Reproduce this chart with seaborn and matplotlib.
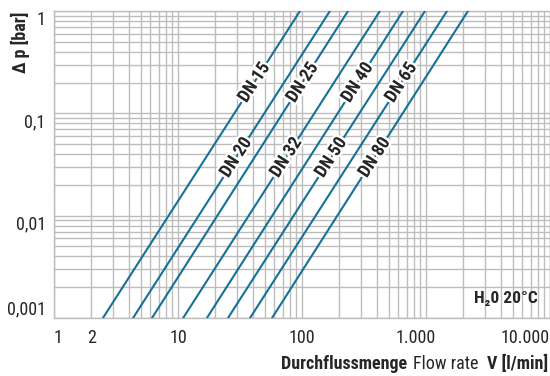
import numpy as np
import pandas as pd
import matplotlib
matplotlib.use("Agg")
import matplotlib.pyplot as plt
import matplotlib.patheffects as pe
import matplotlib.transforms as mtransforms
from matplotlib import font_manager as fm
from matplotlib.ticker import FixedLocator, LogLocator, NullFormatter
import seaborn as sns

# pressure loss lines at 0.001 bar and 1 bar
dn_labels = ["DN 15", "DN 20", "DN 25", "DN 32", "DN 40", "DN 50", "DN 65", "DN 80"]
flow_at_low = [2.48, 4.34, 6.17, 11.0, 17.1, 25.3, 38.1, 57.3]      # l/min
flow_at_high = [96.4, 168, 235, 425, 653, 982, 1477, 2181]          # l/min
dp_low, dp_high = 0.001, 1.0                                        # bar
label_dp = [0.2, 0.037, 0.2, 0.037, 0.2, 0.037, 0.2, 0.037]         # where the DN label sits

x_ticks = [1, 2, 10, 100, 1000, 10000]
x_ticklabels = ["1", "2", "10", "100", "1.000", "10.000"]
y_ticks = [0.001, 0.01, 0.1, 1]
y_ticklabels = ["0,001", "0,01", "0,1", "1"]

LINE = "#17709a"
GRID = "#bdbdbd"

# the original uses a condensed grotesque, take a narrow face if there is one
entries = fm.fontManager.ttflist
names = {f.name for f in entries}
narrow = [f.name for f in entries
          if "condensed" in f.name.lower() or "narrow" in f.name.lower()
          or str(f.stretch) in ("condensed", "semi-condensed", "extra-condensed")]
family = None
stretch = "normal"
for cand in ["Roboto Condensed", "Liberation Sans Narrow", "Noto Sans Condensed",
             "Open Sans Condensed", "DejaVu Sans Condensed"]:
    if cand in names:
        family = cand
        break
if family is None and narrow:
    family = sorted(narrow)[0]
    stretch = "condensed"
scale = 1.0
if family is None:
    family = "Roboto" if "Roboto" in names else "DejaVu Sans"
    scale = 0.9

sns.set_style("white")
plt.rcParams['font.family'] = [family, 'DejaVu Sans']
plt.rcParams['font.stretch'] = stretch

rows = []
for dn, lo, hi in zip(dn_labels, flow_at_low, flow_at_high):
    rows.append({"dn": dn, "flow": lo, "dp": dp_low})
    rows.append({"dn": dn, "flow": hi, "dp": dp_high})
df = pd.DataFrame(rows)

fig = plt.figure(figsize=(5.5, 3.76), dpi=100)
ax = fig.add_axes([54 / 550, 1 - 318 / 376, 496 / 550, 307 / 376])
ax.set_xscale("log")
ax.set_yscale("log")

sns.lineplot(data=df, x="flow", y="dp", hue="dn", palette=[LINE] * len(dn_labels),
             legend=False, lw=1.5, ax=ax, zorder=3)

ax.set_xlim(1, 10000)
ax.set_ylim(dp_low, dp_high)

# grid, major + minor, all the same grey
ax.xaxis.set_minor_locator(LogLocator(base=10, subs=np.arange(2, 10)))
ax.yaxis.set_minor_locator(LogLocator(base=10, subs=np.arange(2, 10)))
ax.xaxis.set_minor_formatter(NullFormatter())
ax.yaxis.set_minor_formatter(NullFormatter())
ax.grid(True, which="both", color=GRID, lw=1.0)
ax.set_axisbelow(True)
for sp in ax.spines.values():
    sp.set_color(GRID)
    sp.set_linewidth(1.0)

ax.xaxis.set_major_locator(FixedLocator(x_ticks))
ax.set_xticklabels(x_ticklabels)
ax.yaxis.set_major_locator(FixedLocator(y_ticks))
ax.set_yticklabels(y_ticklabels)
ax.tick_params(which="both", length=0)
ax.tick_params(axis="x", labelsize=13 * scale, pad=8)
ax.tick_params(axis="y", labelsize=13 * scale, pad=6)
xl = ax.get_xticklabels()
xl[0].set_ha("left")
xl[-1].set_ha("right")
# the original prints "1.000" a bit left of its grid line
xl[4].set_transform(xl[4].get_transform() +
                    mtransforms.ScaledTranslation(-10 / 100, 0, fig.dpi_scale_trans))
for lab in ax.get_yticklabels():
    lab.set_va("bottom" if lab.get_text() == "0,001" else "top")
ax.set_xlabel("")
ax.set_ylabel("")

# DN labels along the lines
for dn, lo, hi, dp in zip(dn_labels, flow_at_low, flow_at_high, label_dp):
    t = (np.log10(dp) - np.log10(dp_low)) / (np.log10(dp_high) - np.log10(dp_low))
    xv = 10 ** (np.log10(lo) + t * (np.log10(hi) - np.log10(lo)))
    ax.text(xv, dp, dn, rotation=57, rotation_mode="anchor", ha="center", va="center",
            fontsize=13 * scale, fontweight="bold", zorder=4,
            path_effects=[pe.withStroke(linewidth=3.5, foreground="white")])

ax.text(0.975, 0.065, "H\u20820 20°C", transform=ax.transAxes, ha="right", va="center",
        fontsize=12.5 * scale, fontweight="bold")

fig.text(20 / 550, 1 - 12 / 376, "\u0394 p [bar]", rotation=90, ha="center", va="top",
         fontsize=13 * scale, fontweight="bold")

# x label made of three pieces, laid out right to left
fig.canvas.draw()
renderer = fig.canvas.get_renderer()
y_base = 1 - 369 / 376
right = 548
pieces = [("V [l/min]", "bold", 8), ("Flow rate", "normal", 6), ("Durchflussmenge", "bold", 0)]
for txt, weight, gap in pieces:
    t = fig.text(right / 550, y_base, txt, ha="right", va="baseline", fontsize=13 * scale,
                 fontweight=weight)
    w = t.get_window_extent(renderer).width
    right = right - w - gap

fig.savefig("out.png", dpi=100)
